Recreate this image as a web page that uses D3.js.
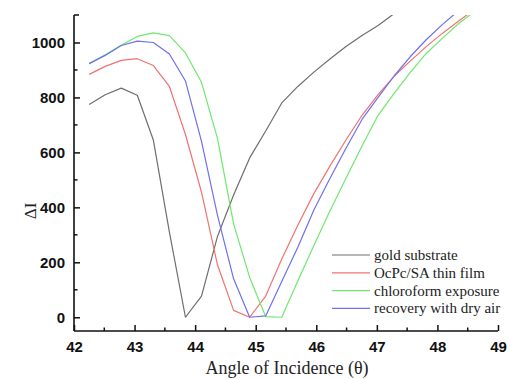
<!DOCTYPE html>
<html>
<head>
<meta charset="utf-8">
<script src="https://cdn.jsdelivr.net/npm/d3@7/dist/d3.min.js"></script>
<style>
  html, body { margin: 0; padding: 0; background: #fff; }
  svg { display: block; }
</style>
</head>
<body>
<svg id="chart" width="510" height="379"></svg>
<script>
// ---- data ----
const angles = [42.25, 42.515, 42.78, 43.045, 43.31, 43.575, 43.84, 44.105, 44.37, 44.635, 44.9, 45.165, 45.43, 45.695, 45.96, 46.225, 46.49, 46.755, 47.02, 47.285, 47.55, 47.815, 48.08, 48.345, 48.61];
const goldSubstrate = [774, 810, 834, 808, 645, 310, 0, 77, 295, 445, 580, 678, 780, 840, 892, 940, 985, 1025, 1062, 1105];
const ocpcFilm = [884, 913, 935, 941, 916, 840, 665, 455, 190, 25, 0, 77, 212, 335, 450, 550, 645, 735, 810, 877, 932, 985, 1033, 1077, 1120];
const chloroform = [923, 955, 990, 1022, 1035, 1025, 962, 855, 650, 340, 145, 2, 0, 132, 261, 387, 506, 623, 735, 815, 890, 960, 1015, 1068, 1112];
const recovery = [923, 953, 989, 1005, 1000, 958, 860, 640, 370, 140, 0, 5, 130, 255, 390, 505, 615, 720, 800, 878, 948, 1010, 1065, 1115];
const seriesNames = ["gold substrate", "OcPc/SA thin film", "chloroform exposure", "recovery with dry air"];
const seriesColors = ["#6e6e6e", "#f07272", "#6fe86f", "#6f6ff0"];
const xTicks = [42, 43, 44, 45, 46, 47, 48, 49];
const yTicks = [0, 200, 400, 600, 800, 1000];

const series = [goldSubstrate, ocpcFilm, chloroform, recovery];

const svg = d3.select("#chart");
const mLeft = 74, mRight = 498, mTop = 15, mBottom = 331;

const x = d3.scaleLinear().domain([42, 49]).range([mLeft, mRight]);
const y = d3.scaleLinear().domain([-50, 1100]).range([mBottom, mTop]);

svg.append("defs").append("clipPath").attr("id", "plotclip")
  .append("rect").attr("x", mLeft).attr("y", mTop).attr("width", mRight - mLeft + 20).attr("height", mBottom - mTop);

const line = d3.line().x(d => x(d[0])).y(d => y(d[1]));

const g = svg.append("g").attr("clip-path", "url(#plotclip)");
series.forEach((vals, k) => {
  const pts = vals.map((v, i) => [angles[i], v]);
  g.append("path").datum(pts)
    .attr("d", line)
    .attr("fill", "none")
    .attr("stroke", seriesColors[k])
    .attr("stroke-width", 1.2)
    .attr("stroke-linejoin", "round");
});

// axes
const tickFont = "bold 15px 'Liberation Sans', Arial, sans-serif";
const xAxis = d3.axisBottom(x).tickValues(xTicks).tickSize(-6).tickPadding(10).tickFormat(d3.format("d"));
const gx = svg.append("g").attr("transform", `translate(0,${mBottom})`).call(xAxis);
gx.select(".domain").attr("d", `M${mLeft},0H${mRight}`).attr("stroke", "#111").attr("stroke-width", 1.6);
gx.selectAll(".tick line").attr("stroke", "#111").attr("stroke-width", 1.5);
gx.selectAll(".tick text").style("font", tickFont).attr("fill", "#111");
gx.selectAll(".minor").data(d3.range(42.5, 49, 1)).enter().append("line")
  .attr("class", "minor")
  .attr("x1", d => x(d)).attr("x2", d => x(d)).attr("y1", 0).attr("y2", -3.5)
  .attr("stroke", "#111").attr("stroke-width", 1.5);

const yAxis = d3.axisLeft(y).tickValues(yTicks).tickSize(-6).tickPadding(9).tickFormat(d3.format("d"));
const gy = svg.append("g").attr("transform", `translate(${mLeft},0)`).call(yAxis);
gy.select(".domain").attr("d", `M0,${mTop}V${mBottom}`).attr("stroke", "#111").attr("stroke-width", 1.6);
gy.selectAll(".tick line").attr("stroke", "#111").attr("stroke-width", 1.5);
gy.selectAll(".tick text").style("font", tickFont).attr("fill", "#111");
gy.selectAll(".minor").data([100, 300, 500, 700, 900, 1100]).enter().append("line")
  .attr("class", "minor")
  .attr("x1", 0).attr("x2", d => d === 1100 ? 5 : 3.5).attr("y1", d => y(d)).attr("y2", d => y(d))
  .attr("stroke", "#111").attr("stroke-width", 1.5);

// axis titles
svg.append("text")
  .attr("x", 287).attr("y", 374)
  .attr("text-anchor", "middle")
  .style("font", "18px 'Liberation Serif', 'Times New Roman', serif")
  .attr("fill", "#222")
  .text("Angle of Incidence (θ)");

svg.append("text")
  .attr("transform", "translate(36,211) rotate(-90)")
  .attr("text-anchor", "middle")
  .style("font", "17px 'Liberation Serif', 'Times New Roman', serif")
  .attr("fill", "#222")
  .text("ΔI");

// legend
const lg = svg.append("g");
seriesNames.forEach((name, k) => {
  const yy = 255 + k * 17.8;
  lg.append("line").attr("x1", 332).attr("x2", 370).attr("y1", yy).attr("y2", yy)
    .attr("stroke", seriesColors[k]).attr("stroke-width", 1.2);
  lg.append("text").attr("x", 374).attr("y", yy + 5)
    .style("font", "15px 'Liberation Serif', 'Times New Roman', serif")
    .attr("fill", "#222")
    .text(name);
});
</script>
</body>
</html>
